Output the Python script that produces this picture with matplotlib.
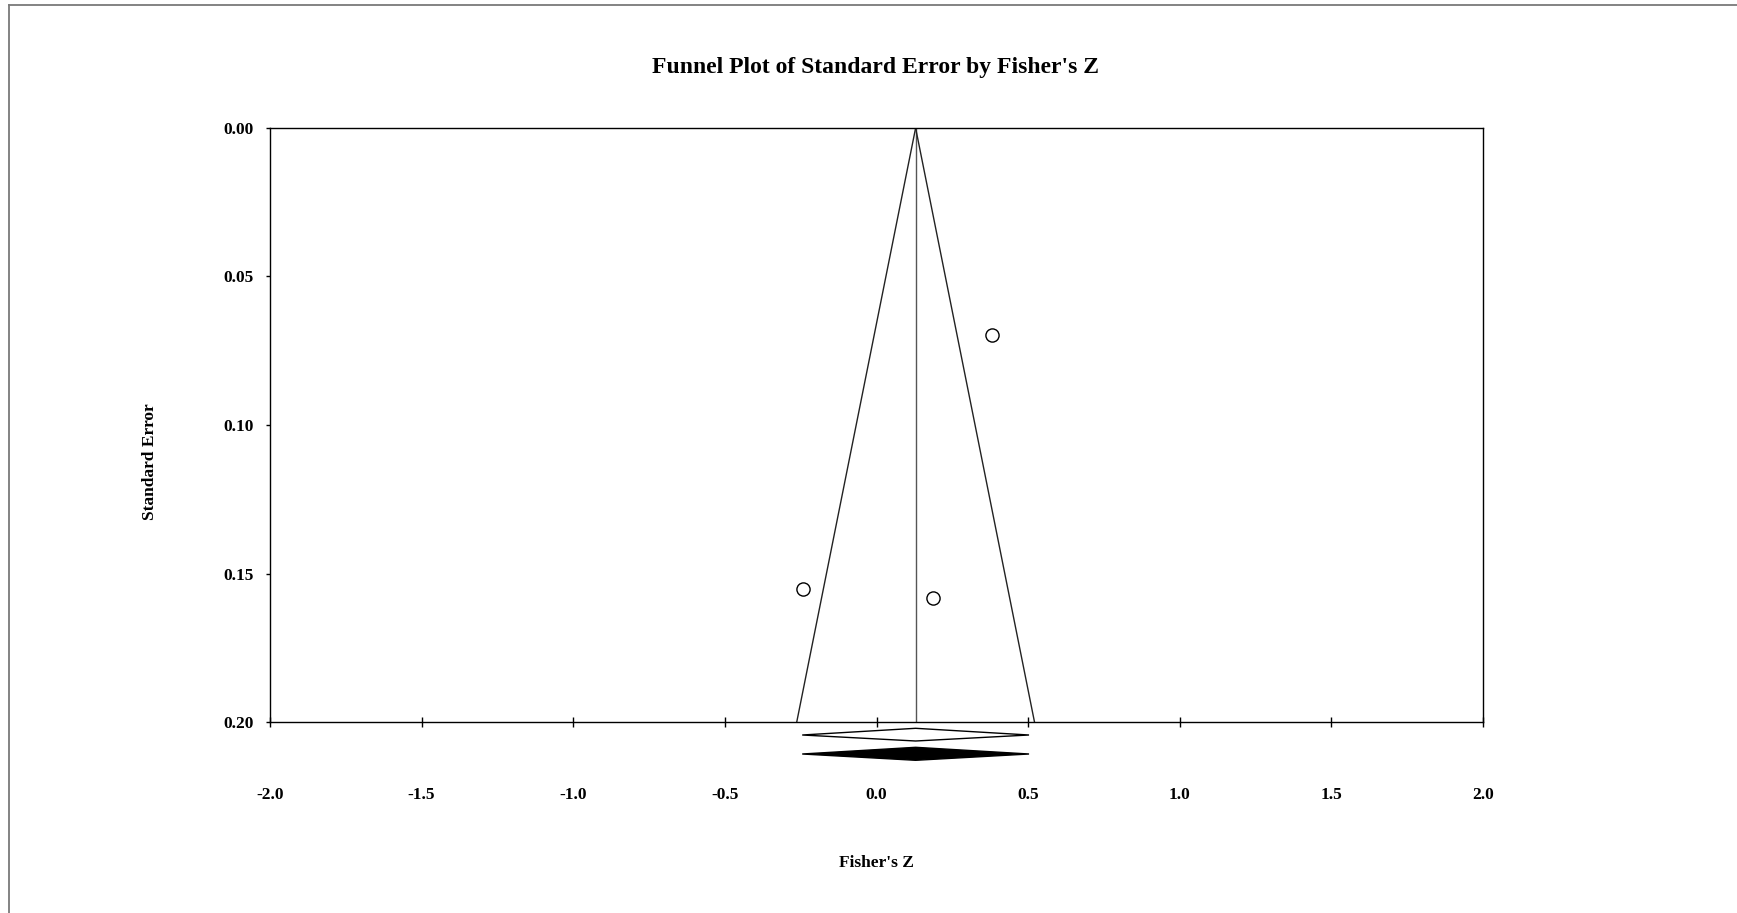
import matplotlib
matplotlib.use("Agg")
import matplotlib.pyplot as plt
from matplotlib.patches import Polygon
from matplotlib.lines import Line2D

# Study effects (Fisher's Z) and their standard errors
fisher_z = [0.3815, -0.2437, 0.187]
std_err = [0.0697, 0.1553, 0.1584]

# Summary effect and its confidence interval (two summary diamonds)
summary_est = [0.129, 0.129]
summary_lo = [-0.245, -0.245]
summary_hi = [0.503, 0.503]

x_ticks = [-2.0, -1.5, -1.0, -0.5, 0.0, 0.5, 1.0, 1.5, 2.0]
y_ticks = [0.00, 0.05, 0.10, 0.15, 0.20]
se_max = 0.20

serif = ["Liberation Serif", "DejaVu Serif"]
plt.rcParams["font.family"] = serif

W, H = 1737, 913
fig = plt.figure(figsize=(W / 100, H / 100), dpi=100)

# outer frame (top and left edges)
fig.add_artist(Line2D([9 / W, 1.0], [1 - 5 / H, 1 - 5 / H], color="#7a7a7a", lw=1.3))
fig.add_artist(Line2D([9 / W, 9 / W], [0.0, 1 - 5 / H], color="#7a7a7a", lw=1.3))

ax = fig.add_axes([270 / W, 1 - 722 / H, (1483 - 270) / W, (722 - 128) / H])
ax.set_xlim(-2.0, 2.0)
ax.set_ylim(se_max, 0.0)

for s in ax.spines.values():
    s.set_linewidth(1.0)
    s.set_color("black")

# funnel: summary line plus 95% pseudo-confidence limits
center = summary_est[0]
ax.plot([center, center], [0, se_max], color="#555555", lw=1.0)
ax.plot([center, center - 1.96 * se_max], [0, se_max], color="#222222", lw=1.0)
ax.plot([center, center + 1.96 * se_max], [0, se_max], color="#222222", lw=1.0)

# studies
ax.scatter(fisher_z, std_err, s=90, facecolors="white", edgecolors="black",
           linewidths=1.0, zorder=5)

# summary diamonds under the axis
px = 0.2 / 594.0
rows = [(6.3, 13.0, 19.0, "white"), (25.3, 32.0, 38.3, "black")]
for (t, m, b, fc), est, lo, hi in zip(rows, summary_est, summary_lo, summary_hi):
    yt, ym, yb = se_max + t * px, se_max + m * px, se_max + b * px
    poly = Polygon([[lo, ym], [est, yt], [hi, ym], [est, yb]], closed=True,
                   facecolor=fc, edgecolor="black", lw=1.0, clip_on=False)
    ax.add_patch(poly)

ax.set_xticks(x_ticks)
ax.set_yticks(y_ticks)
ax.tick_params(axis="x", direction="inout", length=7, width=1.0, pad=43,
               labelsize=12.5)
ax.tick_params(axis="y", direction="out", length=3, width=1.0, pad=9,
               labelsize=12.5)
ax.set_xticklabels([f"{v:.1f}" for v in x_ticks], fontweight="bold")
ax.set_yticklabels([f"{v:.2f}" for v in y_ticks], fontweight="bold")

fig.text(876 / W, 1 - 68 / H, "Funnel Plot of Standard Error by Fisher's Z",
         ha="center", va="center", fontsize=17, fontweight="bold")
fig.text(150 / W, 1 - 462 / H, "Standard Error", rotation=90,
         ha="center", va="center", fontsize=12.5, fontweight="bold")
fig.text(876 / W, 1 - 863 / H, "Fisher's Z",
         ha="center", va="center", fontsize=12.5, fontweight="bold")

fig.savefig("out.png", dpi=100, facecolor="white")
